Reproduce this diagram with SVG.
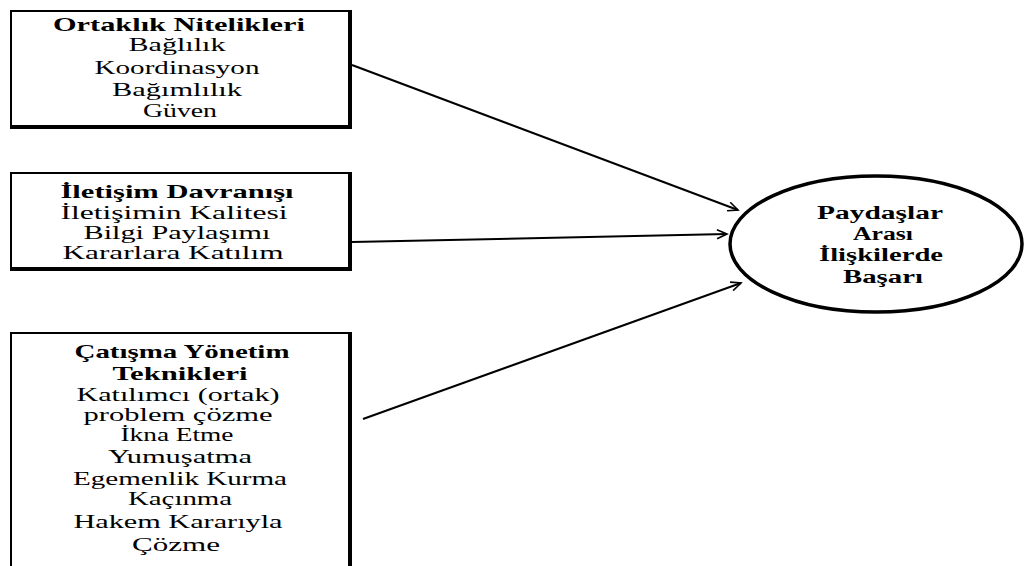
<svg xmlns="http://www.w3.org/2000/svg" width="1025" height="566" viewBox="0 0 1025 566">
  <style>
    .box { fill: #fff; stroke: #000; stroke-width: 2; }
    .shade { stroke: #000; stroke-width: 4; fill: none; }
    .t { font-family: "Liberation Serif", "Times New Roman", serif; font-size: 19.5px; fill: #000; text-anchor: middle; }
    .b { font-weight: bold; }
    .e { font-size: 18.5px; }
    .conn { stroke: #000; stroke-width: 2; fill: none; marker-end: url(#arrow); }
  </style>
  <defs>
    <marker id="arrow" markerUnits="userSpaceOnUse" markerWidth="14" markerHeight="12" refX="11" refY="5" orient="auto">
      <path d="M1,0.5 L11,5 L1,9.5" fill="none" stroke="#000" stroke-width="1.6"/>
    </marker>
  </defs>

  <rect width="1025" height="566" fill="#fff"/>

  <!-- connectors -->
  <g id="connectors">
    <line class="conn" x1="352" y1="65" x2="738" y2="210"/>
    <line class="conn" x1="352" y1="242" x2="727" y2="234"/>
    <line class="conn" x1="363" y1="419" x2="741" y2="283"/>
  </g>

  <!-- partnership attributes -->
  <g id="ortaklik">
    <rect class="box" x="11" y="11" width="338" height="115"/>
    <polyline class="shade" points="350,10 350,127 10,127"/>
    <text class="t b" x="179" y="31" textLength="252" lengthAdjust="spacingAndGlyphs">Ortaklık Nitelikleri</text>
    <text class="t" x="177" y="51" textLength="97" lengthAdjust="spacingAndGlyphs">Bağlılık</text>
    <text class="t" x="177" y="73.5" textLength="165" lengthAdjust="spacingAndGlyphs">Koordinasyon</text>
    <text class="t" x="177" y="95.5" textLength="130" lengthAdjust="spacingAndGlyphs">Bağımlılık</text>
    <text class="t" x="180" y="117" textLength="74" lengthAdjust="spacingAndGlyphs">Güven</text>
  </g>

  <!-- communication behaviour -->
  <g id="iletisim">
    <rect class="box" x="11" y="173" width="338" height="95"/>
    <polyline class="shade" points="350,172 350,269 10,269"/>
    <text class="t b" x="177" y="198" textLength="233" lengthAdjust="spacingAndGlyphs">İletişim Davranışı</text>
    <text class="t" x="174" y="219" textLength="227" lengthAdjust="spacingAndGlyphs">İletişimin Kalitesi</text>
    <text class="t" x="177" y="239" textLength="187" lengthAdjust="spacingAndGlyphs">Bilgi Paylaşımı</text>
    <text class="t" x="173" y="258.5" textLength="221" lengthAdjust="spacingAndGlyphs">Kararlara Katılım</text>
  </g>

  <!-- conflict management techniques -->
  <g id="catisma">
    <rect class="box" x="11" y="333" width="338" height="240"/>
    <line class="shade" x1="350" y1="332" x2="350" y2="570"/>
    <text class="t b" x="182" y="357.5" textLength="215" lengthAdjust="spacingAndGlyphs">Çatışma Yönetim</text>
    <text class="t b" x="180" y="379.5" textLength="135" lengthAdjust="spacingAndGlyphs">Teknikleri</text>
    <text class="t" x="178" y="401" textLength="203" lengthAdjust="spacingAndGlyphs">Katılımcı (ortak)</text>
    <text class="t" x="178" y="421" textLength="189" lengthAdjust="spacingAndGlyphs">problem çözme</text>
    <text class="t" x="177" y="441" textLength="113" lengthAdjust="spacingAndGlyphs">İkna Etme</text>
    <text class="t" x="180" y="463" textLength="144" lengthAdjust="spacingAndGlyphs">Yumuşatma</text>
    <text class="t" x="180" y="485" textLength="214" lengthAdjust="spacingAndGlyphs">Egemenlik Kurma</text>
    <text class="t" x="180" y="505" textLength="104" lengthAdjust="spacingAndGlyphs">Kaçınma</text>
    <text class="t" x="178" y="528" textLength="209" lengthAdjust="spacingAndGlyphs">Hakem Kararıyla</text>
    <text class="t" x="176" y="551" textLength="88" lengthAdjust="spacingAndGlyphs">Çözme</text>
  </g>

  <!-- success in stakeholder relations -->
  <g id="basari">
    <ellipse cx="876" cy="244" rx="146" ry="68" fill="#fff" stroke="#000" stroke-width="3.5"/>
    <text class="t b e" x="880" y="219" textLength="126" lengthAdjust="spacingAndGlyphs">Paydaşlar</text>
    <text class="t b e" x="883" y="240" textLength="60" lengthAdjust="spacingAndGlyphs">Arası</text>
    <text class="t b e" x="881" y="261" textLength="124" lengthAdjust="spacingAndGlyphs">İlişkilerde</text>
    <text class="t b e" x="883" y="283" textLength="80" lengthAdjust="spacingAndGlyphs">Başarı</text>
  </g>
</svg>
